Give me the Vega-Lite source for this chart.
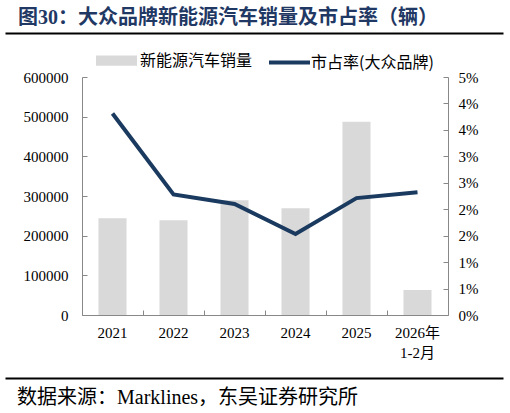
{
  "$schema": "https://vega.github.io/schema/vega-lite/v6.json",
  "autosize": {"type": "pad"},
  "padding": {"left": 17, "top": 8, "right": 28, "bottom": 5},
  "background": "white",
  "bounds": "flush",
  "spacing": 44,
  "resolve": {
    "scale": {"fill": "independent", "stroke": "independent"},
    "legend": {"fill": "independent", "stroke": "independent"}
  },
  "config": {
    "view": {"stroke": null},
    "legend": {"layout": {"top": {"anchor": "middle", "margin": 14}}}
  },
  "vconcat": [
    {
      "width": 366,
      "height": 1,
      "title": {
        "text": "图30：大众品牌新能源汽车销量及市占率（辆）",
        "anchor": "start",
        "frame": "group",
        "dx": -64,
        "offset": 4,
        "font": "Liberation Serif, Noto Sans CJK SC",
        "fontSize": 20,
        "fontWeight": "bold",
        "color": "#1f3864"
      },
      "data": {"values": [{"v": 0.5}]},
      "mark": {"type": "point", "opacity": 0, "size": 0, "strokeWidth": 0},
      "encoding": {
        "x": {
          "field": "v",
          "type": "quantitative",
          "scale": {"domain": [0, 1], "range": [-77, 421]},
          "axis": {"orient": "bottom", "domainColor": "black", "domainWidth": 2, "ticks": false, "labels": false, "grid": false, "title": null}
        }
      }
    },
    {
      "width": 366,
      "height": 238,
      "data": {
        "values": [
          {"period": "2021", "sales": 244000, "share": 0.0381},
          {"period": "2022", "sales": 239000, "share": 0.0228},
          {"period": "2023", "sales": 289000, "share": 0.021},
          {"period": "2024", "sales": 269000, "share": 0.0153},
          {"period": "2025", "sales": 487000, "share": 0.0221},
          {"period": "2026年 1-2月", "sales": 63000, "share": 0.0232}
        ]
      },
      "layer": [
        {
          "mark": {"type": "bar", "width": {"band": 0.46}},
          "encoding": {
            "x": {
              "field": "period",
              "type": "nominal",
              "sort": null,
              "scale": {"paddingInner": 0, "paddingOuter": 0},
              "axis": {
                "orient": "bottom",
                "bandPosition": 0,
                "tickSize": -5,
                "tickColor": "#888",
                "domainColor": "#888",
                "labelPadding": 15,
                "labelFont": "Liberation Serif, Noto Sans CJK SC",
                "labelFontSize": 15,
                "labelColor": "black",
                "labelAngle": 0,
                "labelExpr": "split(datum.label, ' ')",
                "labelLineHeight": 20,
                "title": null,
                "grid": false
              }
            },
            "y": {
              "field": "sales",
              "type": "quantitative",
              "scale": {"domain": [0, 600000], "nice": false},
              "axis": {
                "orient": "left",
                "values": [0, 100000, 200000, 300000, 400000, 500000, 600000],
                "format": "d",
                "tickSize": -5,
                "tickColor": "#888",
                "domainColor": "#888",
                "labelPadding": 19,
                "labelFont": "Liberation Serif",
                "labelFontSize": 15,
                "labelColor": "black",
                "title": null,
                "grid": false
              }
            },
            "fill": {
              "datum": "新能源汽车销量",
              "type": "nominal",
              "scale": {"range": ["#d9d9d9"]},
              "legend": {
                "orient": "top",
                "title": null,
                "symbolType": "M-1,-0.25H1V0.25H-1Z",
                "symbolSize": 1681,
                "symbolStrokeWidth": 0,
                "labelFont": "Noto Sans CJK SC",
                "labelFontSize": 16,
                "labelColor": "black",
                "labelOffset": 3,
                "offset": 6
              }
            }
          }
        },
        {
          "mark": {"type": "line", "strokeWidth": 4},
          "encoding": {
            "x": {"field": "period", "type": "nominal", "sort": null},
            "y": {
              "field": "share",
              "type": "quantitative",
              "scale": {"domain": [0, 0.045], "nice": false},
              "axis": {
                "orient": "right",
                "values": [0, 0.005, 0.01, 0.015, 0.02, 0.025, 0.03, 0.035, 0.04, 0.045],
                "format": ".0%",
                "tickSize": -5,
                "tickColor": "#888",
                "domainColor": "#888",
                "labelPadding": 15,
                "labelFont": "Liberation Serif",
                "labelFontSize": 15,
                "labelColor": "black",
                "title": null,
                "grid": false
              }
            },
            "stroke": {
              "datum": "市占率(大众品牌)",
              "type": "nominal",
              "scale": {"range": ["#1b3a5f"]},
              "legend": {
                "orient": "top",
                "title": null,
                "symbolType": "stroke",
                "symbolSize": 1681,
                "symbolStrokeWidth": 4,
                "labelFont": "Noto Sans CJK SC",
                "labelFontSize": 16,
                "labelColor": "black",
                "labelOffset": -1,
                "offset": 6
              }
            }
          }
        }
      ],
      "resolve": {"scale": {"y": "independent"}}
    },
    {
      "width": 366,
      "height": 19,
      "title": {
        "text": "数据来源：Marklines，东吴证券研究所",
        "orient": "bottom",
        "anchor": "start",
        "frame": "group",
        "dx": -65,
        "offset": 10,
        "font": "Liberation Serif, Noto Sans CJK SC",
        "fontSize": 20,
        "fontWeight": "normal",
        "color": "black"
      },
      "data": {"values": [{"v": 0.5}]},
      "mark": {"type": "point", "opacity": 0, "size": 0, "strokeWidth": 0},
      "encoding": {
        "x": {
          "field": "v",
          "type": "quantitative",
          "scale": {"domain": [0, 1], "range": [-77, 421]},
          "axis": {"orient": "bottom", "domainColor": "black", "domainWidth": 2, "ticks": false, "labels": false, "grid": false, "title": null}
        }
      }
    }
  ]
}
